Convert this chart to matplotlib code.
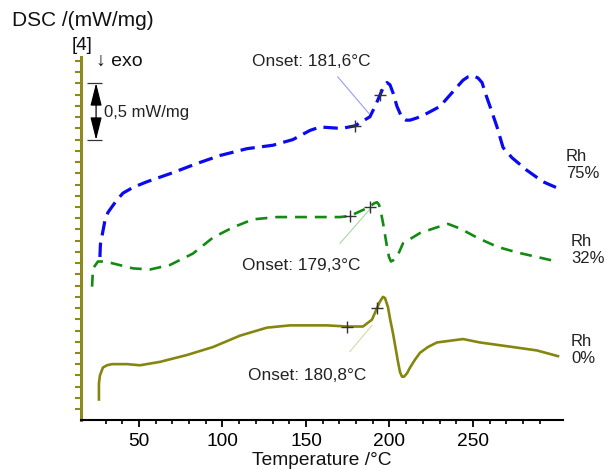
import numpy as np
import matplotlib
matplotlib.use("Agg")
import matplotlib.pyplot as plt

plt.rcParams['font.family'] = ['Liberation Sans', 'DejaVu Sans']

# Rh 75% (blue, dashed)
t75 = [26.6, 26.9, 27.8, 28.7, 29.6, 31.4, 33.8, 36.8, 40.4, 46.4, 54.8, 70.4,
       84.7, 98.5, 114.7, 130.2, 142.2, 152.4, 158.4, 168.6, 172.2, 179.3, 188.3,
       191.3, 194.3, 196.7, 198.5, 200.3, 202.1, 204.5, 207.5, 209.9, 212.3, 216.5,
       222.5, 230.2, 238.0, 244.0, 247.0, 250.0, 253.0, 255.4, 257.8, 260.2, 264.4,
       268.0, 273.4, 282.3, 291.9, 299.7]
dsc75 = [1.43, 1.54, 1.61, 1.68, 1.75, 1.82, 1.87, 1.93, 1.99, 2.04, 2.09, 2.17,
         2.25, 2.32, 2.38, 2.41, 2.46, 2.54, 2.57, 2.56, 2.56, 2.58, 2.66,
         2.75, 2.85, 2.93, 2.96, 2.94, 2.87, 2.75, 2.65, 2.63, 2.63, 2.65,
         2.69, 2.75, 2.88, 2.98, 3.01, 3.02, 3.00, 2.96, 2.85, 2.75, 2.57,
         2.39, 2.30, 2.19, 2.09, 2.04]

# Rh 32% (green, dashed)
t32 = [21.9, 22.2, 22.5, 25.4, 28.4, 32.6, 46.4, 56.6, 68.6, 82.3, 94.3, 106.3,
       118.3, 132.6, 152.4, 170.4, 176.3, 188.3, 190.7, 192.5, 193.7, 194.9, 196.1,
       198.5, 199.7, 200.9, 202.1, 204.5, 208.1, 218.3, 228.4, 235.0, 242.2, 252.4,
       264.4, 276.3, 288.3, 300.3]
dsc32 = [1.17, 1.26, 1.33, 1.39, 1.39, 1.38, 1.33, 1.32, 1.36, 1.46, 1.60, 1.69,
         1.76, 1.78, 1.78, 1.78, 1.79, 1.87, 1.90, 1.91, 1.89, 1.82, 1.73,
         1.52, 1.43, 1.39, 1.40, 1.43, 1.55, 1.64, 1.69, 1.72, 1.68, 1.60,
         1.52, 1.47, 1.43, 1.39]

# Rh 0% (olive, solid)
t0 = [26.0, 26.0, 26.6, 28.4, 30.8, 33.8, 42.8, 50.6, 62.6, 78.7, 94.3, 110.5,
      126.6, 140.4, 162.6, 174.6, 184.1, 189.5, 191.3, 192.5, 194.3, 196.1, 197.3,
      199.1, 200.3, 202.1, 205.1, 206.3, 207.5, 208.7, 210.5, 212.3, 215.3, 218.3,
      223.0, 228.4, 244.0, 254.2, 273.9, 288.3, 300.9]
dsc0 = [0.18, 0.32, 0.39, 0.46, 0.48, 0.49, 0.49, 0.48, 0.51, 0.57, 0.64, 0.74,
        0.81, 0.83, 0.83, 0.82, 0.82, 0.88, 0.94, 0.98, 1.04, 1.08, 1.07,
        0.99, 0.89, 0.76, 0.51, 0.42, 0.38, 0.38, 0.41, 0.46, 0.53, 0.59,
        0.64, 0.68, 0.71, 0.68, 0.64, 0.61, 0.56]

# onset markers (two per curve) and labels
onset_t = [[179.3, 194.3], [176.3, 188.3], [174.6, 192.5]]
onset_v = [[2.58, 2.85], [1.79, 1.87], [0.82, 0.98]]
onset_txt = ["Onset: 181,6°C", "Onset: 179,3°C", "Onset: 180,8°C"]
rh_txt = ["Rh\n75%", "Rh\n32%", "Rh\n0%"]

W, H = 606, 470
def fx(px):
    return px / W
def fy(py):
    return 1 - py / H

blue = '#0a0af0'
green = '#138a13'
olive = '#86860f'
spine_col = '#8c8a1c'

fig = plt.figure(figsize=(W / 100, H / 100), dpi=100)
ax = fig.add_axes([fx(81), fy(420), fx(563) - fx(81), fy(57) - fy(420)])
ax.set_xlim(15.27, 303.9)
ax.set_ylim(0, 3.184)

ax.plot(t75, dsc75, color=blue, lw=2.3, dashes=(4.5, 2.3), solid_joinstyle='round')
ax.plot(t32, dsc32, color=green, lw=1.9, dashes=(4.5, 3.0), solid_joinstyle='round')
ax.plot(t0, dsc0, color=olive, lw=1.9, solid_joinstyle='round')

# tangent / onset construction lines
ax.plot([169.0, 187.6], [3.01, 2.69], color='#9a9aff', lw=0.8)
ax.plot([170.4, 188.9], [1.55, 1.86], color='#a8d4a8', lw=0.8)
ax.plot([176.3, 189.5], [0.60, 0.83], color='#d8d8a8', lw=0.8)

for ts, vs in zip(onset_t, onset_v):
    ax.plot(ts, vs, ls='none', marker='+', ms=9, mew=1.0, color='#333333')

# labels
fig.text(fx(311), fy(61), onset_txt[0], ha='center', va='center', fontsize=12.4,
         color='#222222', bbox=dict(fc='white', ec='none', pad=1))
fig.text(fx(301), fy(265), onset_txt[1], ha='center', va='center', fontsize=12.4,
         color='#222222', bbox=dict(fc='white', ec='none', pad=1))
fig.text(fx(307), fy(375), onset_txt[2], ha='center', va='center', fontsize=12.4,
         color='#222222', bbox=dict(fc='white', ec='none', pad=1))

fig.text(fx(566), fy(165), rh_txt[0], ha='left', va='center', fontsize=12, color='#222222')
fig.text(fx(571), fy(250), rh_txt[1], ha='left', va='center', fontsize=12, color='#222222')
fig.text(fx(571), fy(350), rh_txt[2], ha='left', va='center', fontsize=12, color='#222222')

fig.text(fx(12), fy(21), "DSC /(mW/mg)", ha='left', va='center', fontsize=15, color='#111111')
fig.text(fx(72), fy(45), "[4]", ha='left', va='center', fontsize=13.6, color='#111111')
fig.text(fx(96), fy(61), "↓ exo", ha='left', va='center', fontsize=14, color='#111111')
fig.text(fx(104), fy(113), "0,5 mW/mg", ha='left', va='center', fontsize=12, color='#222222')

# 0.5 mW/mg scale bar
ax.annotate('', xy=(24.3, 2.956), xytext=(24.3, 2.456),
            arrowprops=dict(arrowstyle='<|-|>,head_length=1.4,head_width=0.35',
                            mutation_scale=10, color='black', lw=0.9,
                            shrinkA=0, shrinkB=0))
ax.hlines([2.956, 2.456], 18.9, 27.8, color='#333333', lw=0.9)

# axes styling
for s in ['top', 'right']:
    ax.spines[s].set_visible(False)
ax.spines['left'].set_color(spine_col)
ax.spines['left'].set_linewidth(2.2)
ax.spines['bottom'].set_color('black')
ax.spines['bottom'].set_linewidth(1.5)

ax.set_xticks([50, 100, 150, 200, 250])
ax.set_xticks(np.arange(30, 300, 10), minor=True)
ax.tick_params(axis='x', which='major', direction='out', length=5, width=1.3,
               labelsize=13.8, pad=4, colors='black')
ax.tick_params(axis='x', which='minor', direction='out', length=3, width=1.2)

ax.set_yticks(np.arange(3.149, 0.05, -0.0985))
ax.tick_params(axis='y', which='major', direction='out', length=4.5, width=1.5,
               colors=spine_col, labelleft=False)

fig.text(fx(322), fy(452), "Temperature /°C", ha='center', va='top', fontsize=13.8,
         color='#111111')

fig.savefig("out.png", dpi=100)
